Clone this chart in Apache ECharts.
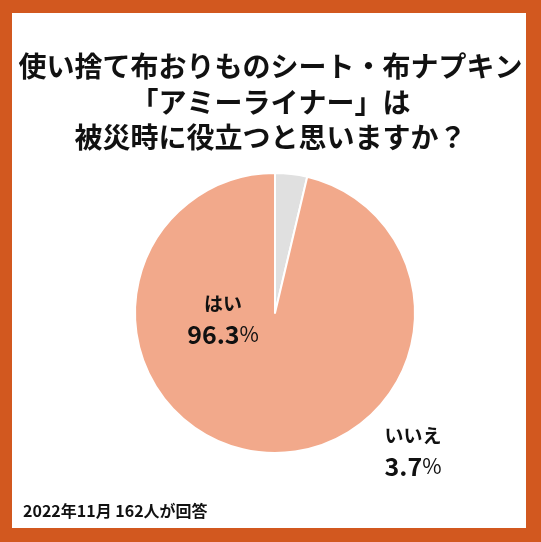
<!DOCTYPE html>
<html>
<head>
<meta charset="utf-8">
<script src="https://cdn.jsdelivr.net/npm/echarts@6/dist/echarts.min.js"></script>
<style>
html,body{margin:0;padding:0;background:#fff;}
#frame{position:absolute;left:0;top:0;width:541px;height:542px;background:#d2581f;}
#inner{position:absolute;left:12px;top:13px;width:514px;height:515px;background:#fff;}
#chart{position:absolute;left:0;top:0;width:541px;height:542px;}
</style>
</head>
<body>
<div id="frame"><div id="inner"></div></div>
<div id="chart"></div>
<script>
const titleLines = ['使い捨て布おりものシート・布ナプキン', '「アミーライナー」は', '被災時に役立つと思いますか？'];
const categories = ['いいえ', 'はい'];
const values = [3.7, 96.3];
const colors = ['#e0e0e0', '#f2a98b'];
const footnote = '2022年11月 162人が回答';

const chart = echarts.init(document.getElementById('chart'), null, {renderer: 'canvas'});
const font = '"Noto Sans CJK JP", "Noto Sans", sans-serif';
chart.setOption({
  backgroundColor: 'transparent',
  animation: false,
  title: {
    text: titleLines.join('\n'),
    left: 'center',
    top: 44,
    textStyle: {fontFamily: font, fontSize: 28, fontWeight: 'bold', color: '#111', lineHeight: 35.5}
  },
  graphic: [{
    type: 'text', left: 23, top: 503,
    style: {text: footnote, fontFamily: font, fontSize: 16, fontWeight: 'bold', fill: '#111'}
  }],
  series: [{
    type: 'pie',
    center: [275, 313],
    radius: [0, 140],
    startAngle: 90,
    clockwise: true,
    itemStyle: {borderColor: '#fff', borderWidth: 2},
    data: categories.map((c, i) => ({name: c, value: values[i], itemStyle: {color: colors[i]}})),
    labelLine: {show: false},
    label: {
      show: true,
      position: 'inside',
      formatter: '{n|{b}}\n{v|{c}}{p|%}',
      rich: {
        n: {fontFamily: font, fontSize: 19, fontWeight: 'bold', color: '#111', lineHeight: 30, align: 'center'},
        v: {fontFamily: font, fontSize: 25, fontWeight: 'bold', color: '#111', lineHeight: 30},
        p: {fontFamily: font, fontSize: 21, fontWeight: 'normal', color: '#111', lineHeight: 30}
      }
    },
    labelLayout: function (p) {
      if (p.dataIndex === 1) return {x: 223, y: 319, align: 'center', verticalAlign: 'middle'};
      return {x: 413, y: 451, align: 'center', verticalAlign: 'middle'};
    }
  }]
});
</script>
</body>
</html>
